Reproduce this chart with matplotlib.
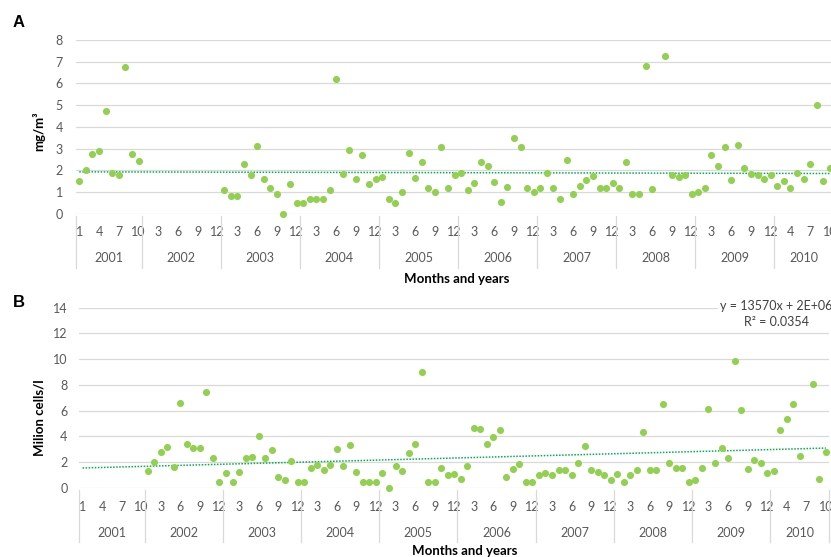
import numpy as np
import matplotlib
matplotlib.use("Agg")
import matplotlib.pyplot as plt

plt.rcParams['font.family'] = ['Lato', 'DejaVu Sans']

# Sampling calendar: years with first/last sampled month
years = [2001, 2002, 2003, 2004, 2005, 2006, 2007, 2008, 2009, 2010]
first_month = [1, 1, 1, 1, 1, 1, 1, 1, 1, 2]
last_month = [10, 12, 12, 12, 12, 12, 12, 12, 12, 10]

# Chlorophyll a (mg/m3), one row per year, None = no sample
chlorophyll = [
    1.5, 2.0, 2.75, 2.9, 4.73, 1.86, 1.77, 6.77, 2.76, 2.43,                 # 2001
    None, None, None, None, None, None, None, None, None, None, None, None,  # 2002
    1.1, 0.8, 0.8, 2.29, 1.8, 3.13, 1.58, 1.2, 0.89, 0.0, 1.38, 0.49,       # 2003
    0.49, 0.69, 0.69, 0.69, 1.09, 6.19, 1.84, 2.93, 1.58, 2.69, 1.38, 1.58,  # 2004
    1.69, 0.69, 0.49, 0.98, 2.78, 1.64, 2.40, 1.20, 0.98, 3.07, 1.20, 1.80,  # 2005
    1.89, 1.09, 1.40, 2.40, 2.20, 1.44, 0.54, 1.24, 3.49, 3.09, 1.20, 0.98,  # 2006
    1.20, 1.89, 1.20, 0.69, 2.49, 0.89, 1.29, 1.55, 1.74, 1.20, 1.20, 1.40,  # 2007
    1.20, 2.40, 0.89, 0.89, 6.80, 1.14, None, 7.25, 1.78, 1.69, 1.78, 0.89,  # 2008
    0.98, 1.20, 2.69, 2.20, 3.09, 1.55, 3.15, 2.09, 1.84, 1.80, 1.60, 1.80,  # 2009
    1.29, 1.50, 1.20, 1.89, 1.60, 2.29, 4.99, 1.50, 2.09,                    # 2010
]

# Phytoplankton abundance (million cells/l)
cells = [
    None, None, None, None, None, None, None, None, None, None,              # 2001
    1.29, 2.02, 2.77, 3.16, 1.60, 6.60, 3.44, 3.08, 3.08, 7.43, 2.30, 0.49,  # 2002
    1.14, 0.47, 1.27, 2.30, 2.41, 4.04, 2.36, 2.98, 0.85, 0.60, 2.10, 0.47,  # 2003
    0.47, 1.53, 1.76, 1.37, 1.76, 3.03, 1.68, 3.36, 1.27, 0.47, 0.47, 0.47,  # 2004
    1.19, 0.0, 1.71, 1.29, 2.69, 3.44, 8.98, 0.47, 0.47, 1.53, 0.98, 1.06,   # 2005
    0.70, 1.71, 4.68, 4.58, 3.39, 3.99, 4.50, 0.83, 1.45, 1.89, 0.49, 0.49,  # 2006
    0.98, 1.19, 0.98, 1.37, 1.37, 0.98, 1.94, 3.24, 1.37, 1.27, 0.98, 0.65,  # 2007
    1.06, 0.44, 0.98, 1.42, 4.37, 1.37, 1.37, 6.52, 1.92, 1.53, 1.58, 0.47,  # 2008
    0.65, 1.53, 6.16, 1.94, 3.13, 2.36, 9.86, 6.06, 1.48, 2.20, 1.94, 1.14,  # 2009
    1.32, 4.53, 5.33, 6.52, 2.46, None, 8.05, 0.70, 2.82,                    # 2010
]

# Linear trend of abundance (cells/l per month index) and its fit quality
trend_slope = 13570
trend_intercept = 1.54e6
trend_r2 = 0.0354

# Category axis
months, year_of = [], []
for y, m0, m1 in zip(years, first_month, last_month):
    for m in range(m0, m1 + 1):
        months.append(m)
        year_of.append(y)
n = len(months)
xs = np.arange(n)
year_counts = [m1 - m0 + 1 for m0, m1 in zip(first_month, last_month)]
bounds = np.concatenate([[0], np.cumsum(year_counts)])

W, H = 831, 557
fig = plt.figure(figsize=(W / 100, H / 100), dpi=100)

GRID = '#d9d9d9'
TXT = '#595959'
DOT = '#92d050'
TREND = '#00b050'
FS = 9
FS_TITLE = 9.5


def px_axes(left, top, right, bottom):
    return fig.add_axes([left / W, 1 - bottom / H, (right - left) / W, (bottom - top) / H])


def draw_panel(ax, values, ymax, ystep, ypad, month_px, year_px, sep_px):
    v = np.array([np.nan if a is None else a for a in values], dtype=float)
    ok = ~np.isnan(v)
    ax.set_xlim(-0.5, n - 0.5)
    ax.set_ylim(0, ymax)
    ax.set_yticks(np.arange(0, ymax + 0.001, ystep))
    ax.grid(axis='y', color=GRID, lw=0.9)
    ax.set_axisbelow(True)
    for s in ax.spines.values():
        s.set_visible(False)
    ax.scatter(xs[ok], v[ok], s=26, color=DOT, lw=0, zorder=3, clip_on=False)
    ax.set_xticks(xs[::3])
    ax.set_xticklabels([str(months[i]) for i in range(0, n, 3)])
    h_px = ax.get_position().height * H
    ax.tick_params(axis='both', length=0, labelcolor=TXT, labelsize=FS)
    ax.tick_params(axis='y', pad=ypad)
    ax.tick_params(axis='x', pad=(month_px - 6) * 0.72)
    trans = ax.get_xaxis_transform()
    for b in bounds:
        ax.plot([b - 0.5, b - 0.5], [-2 / h_px, -sep_px / h_px], transform=trans,
                color=GRID, lw=0.9, clip_on=False)
    for y, b0, b1 in zip(years, bounds[:-1], bounds[1:]):
        ax.text((b0 + b1 - 1) / 2, -year_px / h_px, str(y), transform=trans,
                ha='center', va='center', color=TXT, fontsize=FS)
    return v, ok


# Panel A: chlorophyll
axA = px_axes(76, 40, 833.3, 213.7)
vA, okA = draw_panel(axA, chlorophyll, 8, 1, 9.5, 18.3, 44.3, 54.3)
kA, bA = np.polyfit(xs[okA] + 1, vA[okA], 1)
axA.plot(xs, kA * (xs + 1) + bA, color=TREND, lw=1.1, ls=(0, (1, 1)), zorder=2)

# Panel B: abundance
axB = px_axes(79.3, 307.7, 829.1, 488)
vB, okB = draw_panel(axB, cells, 14, 2, 8.5, 18.7, 45, 53.7)
trend_b = (trend_slope * (xs + 1) + trend_intercept) / 1e6
axB.plot(xs, trend_b, color=TREND, lw=1.1, ls=(0, (1, 1)), zorder=2)

eq = 'y = {}x + {}\nR\u00b2 = {:.4f}'.format(
    trend_slope, '{:.0E}'.format(trend_intercept), trend_r2)
fig.text(776 / W, 1 - 313.5 / H, eq, ha='center', va='center', ma='center',
         fontsize=FS, color='#404040', linespacing=1.4,
         bbox=dict(boxstyle='square,pad=0.15', fc='white', ec='none'))

# Axis titles and panel letters
fig.text(39 / W, 1 - 131 / H, 'mg/m\u00b3', rotation=90, ha='center', va='center',
         fontsize=FS_TITLE, fontweight='bold', color='black')
fig.text(39 / W, 1 - 418 / H, 'Milion cells/l', rotation=90, ha='center', va='center',
         fontsize=FS_TITLE, fontweight='bold', color='black')
fig.text(457 / W, 1 - 279 / H, 'Months and years', ha='center', va='center',
         fontsize=FS_TITLE, fontweight='bold', color='black')
fig.text(465 / W, 1 - 551 / H, 'Months and years', ha='center', va='center',
         fontsize=FS_TITLE, fontweight='bold', color='black')
fig.text(19 / W, 1 - 22.5 / H, 'A', ha='center', va='center', fontsize=12,
         fontweight='bold', family=['Liberation Sans', 'DejaVu Sans'])
fig.text(19 / W, 1 - 302.5 / H, 'B', ha='center', va='center', fontsize=12,
         fontweight='bold', family=['Liberation Sans', 'DejaVu Sans'])

fig.savefig('out.png', dpi=100, facecolor='white')
